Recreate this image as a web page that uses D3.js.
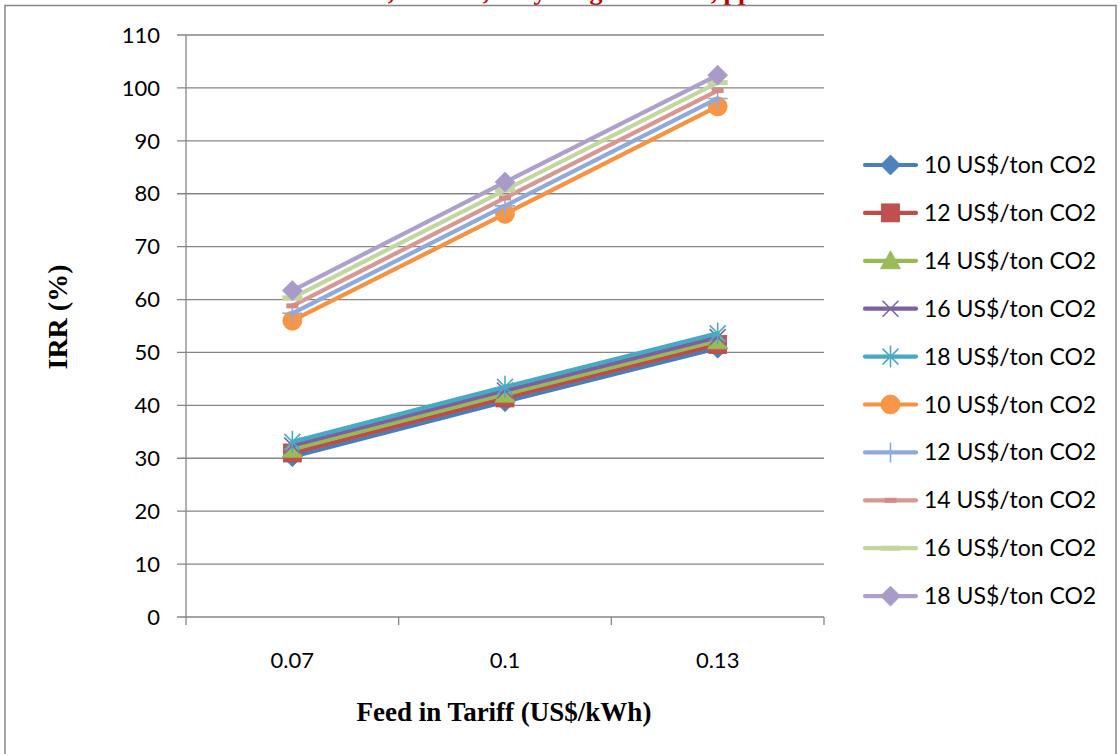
<!DOCTYPE html>
<html><head><meta charset="utf-8">
<script src="https://cdn.jsdelivr.net/npm/d3@7"></script>
<style>body{margin:0;background:#fff}svg{display:block}</style>
</head><body>
<svg id="chart" width="1120" height="754"></svg>
<script>
const categories = ["0.07", "0.1", "0.13"];
const yTicks = [0,10,20,30,40,50,60,70,80,90,100,110];
const seriesNames = ["10 US$/ton CO2","12 US$/ton CO2","14 US$/ton CO2","16 US$/ton CO2","18 US$/ton CO2",
                     "10 US$/ton CO2","12 US$/ton CO2","14 US$/ton CO2","16 US$/ton CO2","18 US$/ton CO2"];
const s1 = [30.3, 40.7, 50.8];
const s2 = [31.0, 41.4, 51.5];
const s3 = [31.7, 42.1, 52.2];
const s4 = [32.4, 42.8, 52.9];
const s5 = [33.1, 43.5, 53.6];
const s6 = [56.0, 76.2, 96.5];
const s7 = [57.4, 77.7, 98.0];
const s8 = [58.8, 79.2, 99.5];
const s9 = [60.3, 80.7, 101.0];
const s10 = [61.7, 82.2, 102.4];
const seriesValues = [s1,s2,s3,s4,s5,s6,s7,s8,s9,s10];
const lineColors = ["#4A7EBB","#BE4B48","#98B954","#7D60A0","#46AAC5","#F69240","#8EAADB","#D99694","#C3D69B","#ADA0CC"];
const markerColors = ["#4F81BD","#C0504D","#9BBB59","#8064A2","#4BACC6","#F79646","#8EAADB","#D38B88","#C3D69B","#A99BC9"];
const markerTypes = ["diamond","square","triangle","x","star","circle","plus","dash","longdash","diamond"];
const titlePieces = [[391,","],[486,","],[540,"y"],[596,"g"],[714,","],[738,"pp"]];

const svg = d3.select("#chart");
const grey = "#868686";
const sans = "Lato, 'Open Sans', sans-serif";
const serif = "'Liberation Serif', 'Times New Roman', serif";

// title remnants (clipped at top, as in the reference)
svg.append("g").selectAll("text").data(titlePieces).join("text")
  .attr("x", d => d[0]).attr("y", -0.5).attr("text-anchor","middle")
  .attr("font-family", serif).attr("font-weight","bold").attr("font-size",26)
  .attr("fill","#C00000").text(d => d[1]);

svg.append("rect").attr("x",5).attr("y",5.5).attr("width",1111).attr("height",800)
  .attr("fill","none").attr("stroke",grey).attr("stroke-width",1.5);

const x = d3.scaleBand().domain(categories).range([186, 824]).padding(0);
const y = d3.scaleLinear().domain([0,110]).range([617, 35]);

// gridlines
svg.append("g").selectAll("line").data(yTicks).join("line")
  .attr("x1", 177).attr("x2", 824).attr("y1", d => y(d)).attr("y2", d => y(d))
  .attr("stroke", grey).attr("stroke-width",1.3);
// y axis
svg.append("line").attr("x1",186).attr("x2",186).attr("y1",y(110)).attr("y2",y(0)).attr("stroke",grey).attr("stroke-width",1.3);
svg.append("g").selectAll("text").data(yTicks).join("text")
  .attr("x",160).attr("y", d => y(d)).attr("dy","0.35em").attr("text-anchor","end")
  .attr("font-family",sans).attr("font-size",22).attr("fill","#000").text(d => d);
// x ticks at band boundaries
const bounds = categories.map(c => x(c)).concat([x.range()[1]]);
svg.append("g").selectAll("line").data(bounds).join("line")
  .attr("x1", d => d).attr("x2", d => d).attr("y1", y(0)).attr("y2", y(0)+8)
  .attr("stroke",grey).attr("stroke-width",1.3);
svg.append("g").selectAll("text").data(categories).join("text")
  .attr("x", d => x(d) + x.bandwidth()/2).attr("y", 660).attr("dy","0.35em").attr("text-anchor","middle")
  .attr("font-family",sans).attr("font-size",22).attr("fill","#000").text(d => d);

// axis titles
svg.append("text").attr("transform","translate(57,317) rotate(-90)").attr("text-anchor","middle")
  .attr("dy","0.35em").attr("font-family",serif).attr("font-weight","bold").attr("font-size",28).text("IRR (%)");
svg.append("text").attr("x",504).attr("y",712).attr("dy","0.35em").attr("text-anchor","middle")
  .attr("font-family",serif).attr("font-weight","bold").attr("font-size",27).text("Feed in Tariff (US$/kWh)");

function drawMarker(g, type, cx, cy, i) {
  const fc = markerColors[i], lc = lineColors[i];
  if (type === "diamond") {
    g.append("path").attr("d", `M${cx},${cy-10}L${cx+10},${cy}L${cx},${cy+10}L${cx-10},${cy}Z`).attr("fill",fc).attr("stroke",lc).attr("stroke-width",0.8);
  } else if (type === "square") {
    g.append("rect").attr("x",cx-9).attr("y",cy-9).attr("width",18).attr("height",18).attr("fill",fc).attr("stroke",lc).attr("stroke-width",0.8);
  } else if (type === "triangle") {
    g.append("path").attr("d", `M${cx},${cy-10}L${cx+10},${cy+8}L${cx-10},${cy+8}Z`).attr("fill",fc).attr("stroke",lc).attr("stroke-width",0.8);
  } else if (type === "circle") {
    g.append("circle").attr("cx",cx).attr("cy",cy).attr("r",9.5).attr("fill",fc).attr("stroke",lc).attr("stroke-width",0.8);
  } else if (type === "x") {
    g.append("path").attr("d", `M${cx-8},${cy-8}L${cx+8},${cy+8}M${cx-8},${cy+8}L${cx+8},${cy-8}`).attr("stroke",fc).attr("stroke-width",1.6).attr("fill","none");
  } else if (type === "star") {
    g.append("path").attr("d", `M${cx-8},${cy-8}L${cx+8},${cy+8}M${cx-8},${cy+8}L${cx+8},${cy-8}M${cx},${cy-11}L${cx},${cy+11}`).attr("stroke",fc).attr("stroke-width",1.6).attr("fill","none");
  } else if (type === "plus") {
    g.append("path").attr("d", `M${cx},${cy-10}L${cx},${cy+10}M${cx-10},${cy}L${cx+10},${cy}`).attr("stroke",fc).attr("stroke-width",1.6).attr("fill","none");
  } else if (type === "dash") {
    g.append("rect").attr("x",cx-6).attr("y",cy-2.5).attr("width",12).attr("height",5).attr("fill",fc);
  } else if (type === "longdash") {
    g.append("rect").attr("x",cx-10).attr("y",cy-2.5).attr("width",20).attr("height",5).attr("fill",fc);
  }
}

const line = d3.line().x((d,j) => x(categories[j]) + x.bandwidth()/2).y(d => y(d));
seriesValues.forEach((vals, i) => {
  const g = svg.append("g");
  g.append("path").datum(vals).attr("d", line).attr("fill","none").attr("stroke",lineColors[i])
    .attr("stroke-width",4.2).attr("stroke-linejoin","round").attr("stroke-linecap","round");
  vals.forEach((v,j) => drawMarker(g, markerTypes[i], x(categories[j]) + x.bandwidth()/2, y(v), i));
});

// legend
const leg = svg.append("g");
seriesNames.forEach((name, i) => {
  const cy = 165 + i*47.9;
  const g = leg.append("g");
  g.append("line").attr("x1",865).attr("x2",916).attr("y1",cy).attr("y2",cy).attr("stroke",lineColors[i])
    .attr("stroke-width",4.2).attr("stroke-linecap","round");
  drawMarker(g, markerTypes[i], 890.5, cy, i);
  g.append("text").attr("x",924).attr("y",cy).attr("dy","0.35em").attr("font-family",sans).attr("font-size",23)
    .attr("fill","#000").text(name);
});
</script>
</body></html>
